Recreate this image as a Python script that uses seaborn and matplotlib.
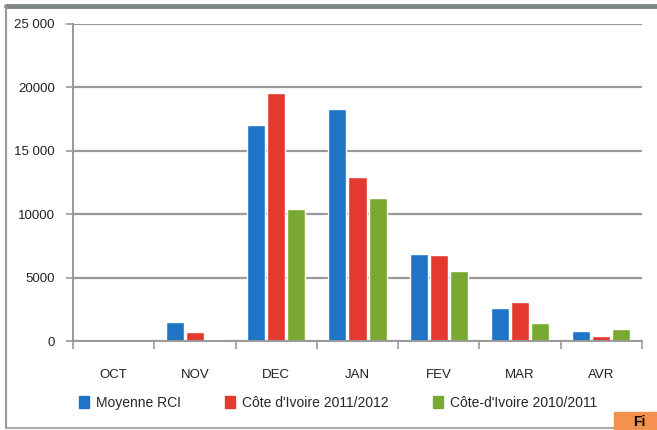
import matplotlib
matplotlib.use("Agg")
import matplotlib.pyplot as plt
import seaborn as sns
import pandas as pd
from matplotlib.patches import Rectangle

months = ["OCT", "NOV", "DEC", "JAN", "FEV", "MAR", "AVR"]
series_names = ["Moyenne RCI", "Côte d'Ivoire 2011/2012", "Côte-d'Ivoire 2010/2011"]
moyenne_rci = [0, 1500, 17000, 18300, 6900, 2600, 800]
ci_2011_2012 = [0, 700, 19550, 12900, 6800, 3100, 400]
ci_2010_2011 = [0, 150, 10400, 11300, 5500, 1400, 950]
ytick_values = [0, 5000, 10000, 15000, 20000, 25000]
ytick_labels = ["0", "5000", "10000", "15 000", "20000", "25 000"]
colors = ["#1f74c6", "#e3392f", "#7aa931"]

rows = []
for name, vals in zip(series_names, [moyenne_rci, ci_2011_2012, ci_2010_2011]):
    for m, v in zip(months, vals):
        rows.append({"Mois": m, "Valeur": v, "Série": name})
df = pd.DataFrame(rows)

sns.set_theme(style="white")
plt.rcParams["font.family"] = ["Liberation Sans Narrow", "Liberation Sans", "DejaVu Sans"]

fig = plt.figure(figsize=(6.57, 4.30), dpi=100)
ax = fig.add_axes([73 / 657, (430 - 341) / 430, (642 - 73) / 657, (341 - 24) / 430])

sns.barplot(data=df, x="Mois", y="Valeur", hue="Série", order=months,
            hue_order=series_names, palette=colors, width=0.74, gap=0.1,
            ax=ax, legend=False, saturation=1)

ax.set_ylim(0, 25000)
ax.set_xlim(-0.5, len(months) - 0.5)
ax.set_yticks(ytick_values)
ax.set_yticklabels(ytick_labels, fontsize=9.5, color="#222222")
ax.set_xlabel("")
ax.set_ylabel("")
ax.set_xticks(range(len(months)))
ax.set_xticklabels(months, fontsize=9.5, color="#222222")
ax.tick_params(axis="x", length=0, pad=20)
ax.tick_params(axis="y", length=5, width=1.2, color="#999999", left=True, pad=8)
ax.set_xticks([i - 0.5 for i in range(len(months) + 1)], minor=True)
ax.tick_params(axis="x", which="minor", length=6, width=1.2, color="#999999", bottom=True)

ax.yaxis.grid(True, color="#9a9a9a", linewidth=1.6)
ax.set_axisbelow(True)
for s in ["top", "right"]:
    ax.spines[s].set_visible(False)
for s in ["left", "bottom"]:
    ax.spines[s].set_color("#999999")
    ax.spines[s].set_linewidth(1.4)

handles = [Rectangle((0, 0), 1, 1, color=c) for c in colors]
fig.legend(handles, series_names, loc="center", bbox_to_anchor=(338 / 657, 1 - 403 / 430),
           ncol=3, frameon=False, fontsize=10, handlelength=0.7, handleheight=0.9,
           handletextpad=0.5, columnspacing=3.2)

fig.add_artist(plt.Line2D([6 / 657, 1], [1 - 6 / 430, 1 - 6 / 430], color="#808686", linewidth=3.5))
fig.add_artist(plt.Line2D([6 / 657, 6 / 657], [1 - 6 / 430, 1 - 428 / 430], color="#999999", linewidth=1.5))
fig.add_artist(plt.Line2D([6 / 657, 614 / 657], [1 - 428 / 430, 1 - 428 / 430], color="#aaaaaa", linewidth=1.5))
fig.add_artist(Rectangle((614 / 657, 0), 43 / 657, 18 / 430, transform=fig.transFigure,
                         color="#f4914f", zorder=5))
fig.text(633 / 657, 1 / 430, "Fi", fontsize=10, fontweight="bold", color="black",
         ha="left", va="bottom", zorder=6)

fig.savefig("out.png", dpi=100)
